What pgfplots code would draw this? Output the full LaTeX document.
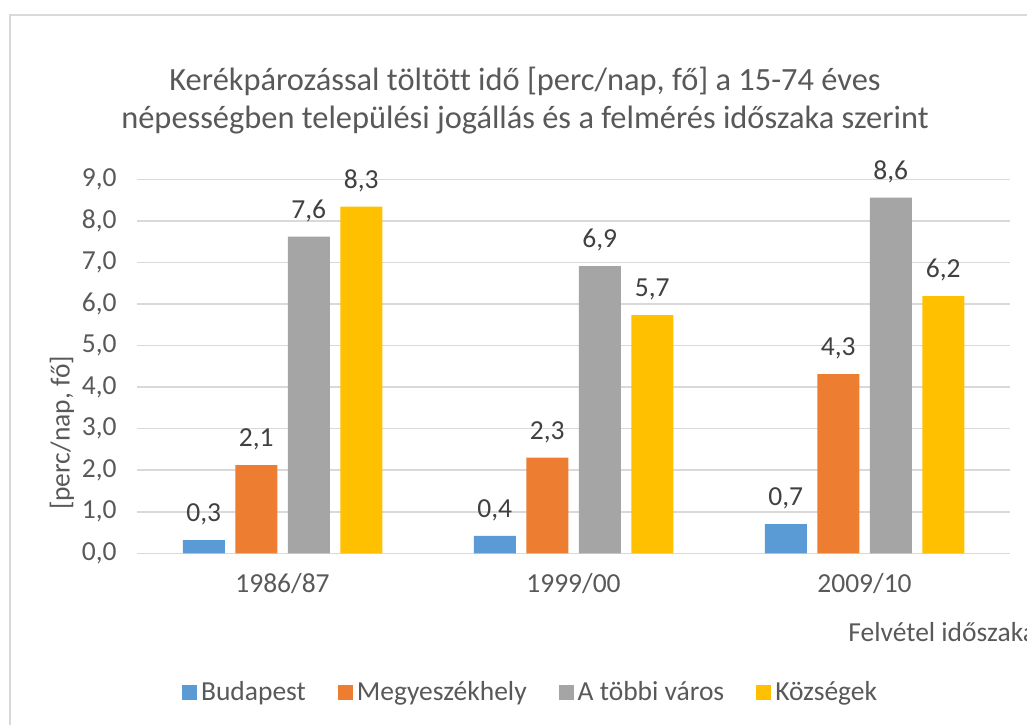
\documentclass[border=0pt]{standalone}
\usepackage{fontspec}
\setmainfont{Carlito}[Ligatures={NoCommon}]
\usepackage{pgfplots}
\pgfplotsset{compat=1.18}
\definecolor{cBlue}{HTML}{5B9BD5}
\definecolor{cOrange}{HTML}{ED7D31}
\definecolor{cGray}{HTML}{A5A5A5}
\definecolor{cYellow}{HTML}{FFC000}
\definecolor{gridc}{HTML}{D9D9D9}
\definecolor{framec}{HTML}{D9D9D9}
\definecolor{tickc}{HTML}{595959}
\definecolor{labelc}{HTML}{404040}
\begin{document}
\begin{tikzpicture}
\path[use as bounding box] (0,0) rectangle (513.5pt,362pt);
\draw[color=framec, line width=1.25pt] (5pt,-20pt) rectangle (540pt,354.5pt);
\node[align=center, text=tickc, font=\fontsize{16.2}{19}\selectfont] at (262.5pt,311.5pt)
  {Kerékpározással töltött idő [perc/nap, fő] a 15-74 éves\\népességben települési jogállás és a felmérés időszaka szerint};
\node[rotate=90, text=tickc, font=\fontsize{13.75}{16}\selectfont] at (31pt,145.5pt) {[perc/nap, fő]};
\node[anchor=west, text=tickc, font=\fontsize{13.75}{16}\selectfont, inner sep=0pt] at (424pt,46pt) {Felvétel időszaka};
\begin{axis}[
  at={(68.5pt,85.35pt)}, anchor=south west,
  scale only axis, width=436.5pt, height=187pt,
  ymin=0, ymax=9, xmin=-0.5, xmax=2.5,
  ytick={0,1,...,9}, xtick={0,1,2}, xticklabels={1986/87,1999/00,2009/10},
  ybar=5.25pt, bar width=21pt,
  axis line style={draw=none},
  major tick length=0pt,
  ymajorgrids, grid style={draw=gridc, line width=0.75pt},
  /pgf/number format/assume math mode=true,
  yticklabel style={anchor=east, inner sep=0pt, xshift=-10pt, text=tickc,
    font=\fontsize{13.75}{16}\selectfont,
    /pgf/number format/fixed, /pgf/number format/fixed zerofill,
    /pgf/number format/precision=1, /pgf/number format/use comma},
  xticklabel style={anchor=north, inner sep=0pt, yshift=-10pt, text=tickc,
    font=\fontsize{13.75}{16}\selectfont},
  nodes near coords,
  every node near coord/.append style={font=\fontsize{13.75}{16}\selectfont, text=labelc, inner sep=0pt, yshift=7.3pt,
    /pgf/number format/fixed, /pgf/number format/fixed zerofill,
    /pgf/number format/precision=1, /pgf/number format/use comma},
  legend columns=4,
  legend style={at={(0.452,-0.371)}, anchor=center, draw=none, text=tickc,
    font=\fontsize{13.75}{16}\selectfont,
    /tikz/every even column/.append style={column sep=14pt}},
  legend image code/.code={\fill[#1, draw=none] (0pt,-3.75pt) rectangle (7.5pt,3.75pt);},
]
\addplot[fill=cBlue, draw=none] coordinates {(0,0.32) (1,0.42) (2,0.70)};
\addplot[fill=cOrange, draw=none] coordinates {(0,2.12) (1,2.30) (2,4.31)};
\addplot[fill=cGray, draw=none] coordinates {(0,7.62) (1,6.91) (2,8.56)};
\addplot[fill=cYellow, draw=none] coordinates {(0,8.34) (1,5.73) (2,6.19)};
\legend{Budapest, Megyeszékhely, A többi város, Községek}
\end{axis}
\end{tikzpicture}
\end{document}
